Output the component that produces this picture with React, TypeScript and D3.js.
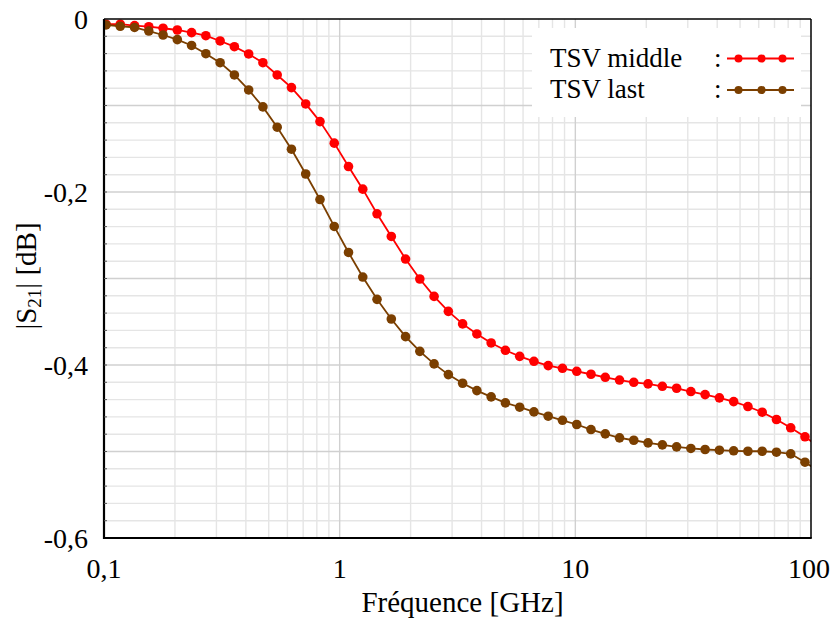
import React from "react";
import * as d3 from "d3";

// Frequency points [GHz] (log-spaced sweep)
const frequencies = [
  0.102, 0.1172, 0.1348, 0.1549, 0.1781, 0.2047, 0.2353, 0.2705, 0.311, 0.3575,
  0.411, 0.4724, 0.5431, 0.6243, 0.7177, 0.825, 0.9484, 1.0902, 1.2533, 1.4407,
  1.6562, 1.9038, 2.1885, 2.5158, 2.8921, 3.3246, 3.8217, 4.3933, 5.0503, 5.8056,
  6.6738, 7.672, 8.819, 10.138, 11.654, 13.397, 15.4, 17.7, 20.35, 23.4,
  26.9, 30.92, 35.54, 40.86, 46.97, 53.99, 62.07, 71.35, 82.02, 94.29, 108.4,
];

// |S21| [dB] — TSV middle
const tsvMiddle = [
  -0.006, -0.006, -0.0077, -0.0089, -0.0107, -0.0127, -0.0158, -0.0193, -0.0254, -0.032,
  -0.0404, -0.0505, -0.0647, -0.0793, -0.0982, -0.1186, -0.1435, -0.1706, -0.1967, -0.2252,
  -0.2514, -0.2775, -0.3006, -0.3207, -0.338, -0.3525, -0.3641, -0.3745, -0.383, -0.39,
  -0.3957, -0.4007, -0.4038, -0.4073, -0.4107, -0.4142, -0.4174, -0.42, -0.4218, -0.4246,
  -0.4269, -0.4307, -0.4342, -0.438, -0.4423, -0.448, -0.4546, -0.463, -0.4726, -0.483, -0.4947,
];

// |S21| [dB] — TSV last
const tsvLast = [
  -0.0069, -0.0084, -0.0098, -0.0139, -0.0185, -0.0239, -0.0306, -0.0401, -0.0505, -0.0647,
  -0.082, -0.1016, -0.1251, -0.1505, -0.1792, -0.2087, -0.2398, -0.2699, -0.2983, -0.3241,
  -0.3468, -0.3672, -0.3842, -0.3987, -0.4111, -0.4211, -0.4296, -0.4368, -0.4438, -0.4488,
  -0.4542, -0.4592, -0.4639, -0.4688, -0.4746, -0.4796, -0.4842, -0.487, -0.49, -0.4923,
  -0.4946, -0.4965, -0.4977, -0.4985, -0.4992, -0.4997, -0.4997, -0.5008, -0.5027, -0.5124, -0.5231,
];

const seriesNames = ["TSV middle", "TSV last"];
const seriesColors = ["#ff0000", "#7b3f00"];

const xTicks = [0.1, 1, 10, 100];
const xTickLabels = ["0,1", "1", "10", "100"];
const yTicks = [0, -0.2, -0.4, -0.6];
const yTickLabels = ["0", "-0,2", "-0,4", "-0,6"];

const W = 835;
const H = 619;
const M = { left: 104, right: 811, top: 19, bottom: 538 };
const FONT = '"Liberation Serif", "Times New Roman", Times, "DejaVu Serif", serif';
const TXT = { fontFamily: FONT };

export default function App() {
  const x = d3.scaleLog().domain([0.1, 100]).range([M.left, M.right]);
  const y = d3.scaleLinear().domain([-0.6, 0]).range([M.bottom, M.top]);

  const xMinor: number[] = [];
  [0.1, 1, 10].forEach((dec) => {
    for (let k = 2; k <= 9; k++) xMinor.push(dec * k);
  });
  const xMajor = [1, 10];
  const yMinor: number[] = [];
  for (let i = 1; i < 30; i++) if (i % 5 !== 0) yMinor.push(-i * 0.02);
  const yMajor = [-0.1, -0.2, -0.3, -0.4, -0.5];

  const series = [tsvMiddle, tsvLast];
  const line = d3
    .line<number>()
    .x((_, i) => x(frequencies[i]))
    .y((d) => y(d));

  const legendX = 532;
  const legendY = 28;
  const legendRows = [58.5, 90];

  return (
    <svg width={W} height={H} style={{ position: "absolute", left: 0, top: 0, background: "#fff" }}>
      <defs>
        <clipPath id="plotClip">
          <rect x={M.left} y={M.top} width={M.right - M.left} height={M.bottom - M.top} />
        </clipPath>
      </defs>
      <rect x={0} y={0} width={W} height={H} fill="#fff" />

      {xMinor.map((v) => (
        <line key={"xm" + v} x1={x(v)} x2={x(v)} y1={M.top} y2={M.bottom} stroke="#e5e5e5" strokeWidth={1.4} />
      ))}
      {yMinor.map((v) => (
        <line key={"ym" + v} x1={M.left} x2={M.right} y1={y(v)} y2={y(v)} stroke="#e5e5e5" strokeWidth={1.4} />
      ))}
      {xMajor.map((v) => (
        <line key={"xM" + v} x1={x(v)} x2={x(v)} y1={M.top} y2={M.bottom} stroke="#d0d0d0" strokeWidth={1.4} />
      ))}
      {yMajor.map((v) => (
        <line key={"yM" + v} x1={M.left} x2={M.right} y1={y(v)} y2={y(v)} stroke="#d0d0d0" strokeWidth={1.4} />
      ))}

      <rect x={legendX} y={legendY} width={801 - legendX} height={117 - legendY} fill="#fff" />

      <g clipPath="url(#plotClip)">
        {series.map((s, si) => (
          <g key={si}>
            <path d={line(s) || ""} fill="none" stroke={seriesColors[si]} strokeWidth={1.8} />
            {s.map((v, i) => (
              <circle key={i} cx={x(frequencies[i])} cy={y(v)} r={4.8} fill={seriesColors[si]} />
            ))}
          </g>
        ))}
      </g>

      <line x1={M.left} x2={M.right} y1={M.top} y2={M.top} stroke="#000" strokeWidth={1.5} />
      <line x1={M.right} x2={M.right} y1={M.top} y2={M.bottom} stroke="#000" strokeWidth={1.5} />
      <line x1={M.left} x2={M.left} y1={M.top} y2={M.bottom + 1} stroke="#000" strokeWidth={2.2} />
      <line x1={M.left - 1} x2={M.right + 0.75} y1={M.bottom} y2={M.bottom} stroke="#000" strokeWidth={2.2} />
      {yMinor.concat(yMajor).map((v) => (
        <line key={"yt" + v} x1={M.left} x2={M.left + 3} y1={y(v)} y2={y(v)} stroke="#555" strokeWidth={1} />
      ))}

      {yTicks.map((v, i) => (
        <text key={"yl" + v} style={TXT} x={88} y={y(v) + 9.5} fontSize={28} textAnchor="end" fill="#000">
          {yTickLabels[i]}
        </text>
      ))}
      {xTicks.map((v, i) => (
        <text key={"xl" + v} style={TXT} x={x(v) - (i === 3 ? 2 : 0)} y={578} fontSize={28} textAnchor="middle" fill="#000">
          {xTickLabels[i]}
        </text>
      ))}

      <text style={TXT} x={462.5} y={612} fontSize={29} textAnchor="middle" fill="#000">
        Fréquence [GHz]
      </text>
      <text style={TXT} transform="translate(36,276) rotate(-90)" fontSize={29} textAnchor="middle" fill="#000">
        |S
        <tspan fontSize={19} dy={5}>21</tspan>
        <tspan dy={-5}>| [dB]</tspan>
      </text>

      {seriesNames.map((name, i) => (
        <g key={name}>
          <text style={TXT} x={550} y={legendRows[i] + 8} fontSize={27} fill="#000">
            {name}
          </text>
          <text style={TXT} x={714} y={legendRows[i] + 8} fontSize={27} fill="#000">
            :
          </text>
          <line x1={727} x2={794} y1={legendRows[i]} y2={legendRows[i]} stroke={seriesColors[i]} strokeWidth={1.8} />
          {[738.5, 761.5, 782.5].map((cx) => (
            <circle key={cx} cx={cx} cy={legendRows[i]} r={4} fill={seriesColors[i]} />
          ))}
        </g>
      ))}
    </svg>
  );
}
